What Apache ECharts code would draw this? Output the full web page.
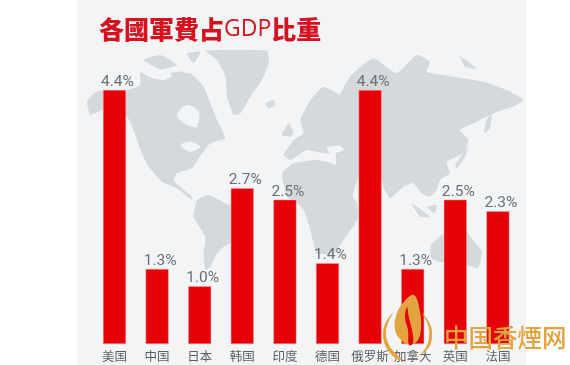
<!DOCTYPE html>
<html><head><meta charset="utf-8">
<style>html,body{margin:0;padding:0;background:#fff}#c{width:570px;height:365px;filter:blur(0.4px)}</style>
<script src="https://cdn.jsdelivr.net/npm/echarts@6/dist/echarts.min.js"></script>
</head><body><div id="c"></div>
<script>
const categories = ['美国','中国','日本','韩国','印度','德国','俄罗斯','加拿大','英国','法国'];
const values = [4.4,1.3,1.0,2.7,2.5,1.4,4.4,1.3,2.5,2.3];

// Decorative backdrop outlines (zoom-space points of the map image, not data)
const zA = p => p.map(([x,y]) => [77 + x/3, 40 + y/3]);
const zB = p => p.map(([x,y]) => [340 + x/3, 40 + y/3]);
const land = [
 zA([[30,185],[50,160],[78,150],[150,150],[190,135],[190,95],[215,110],[260,120],[300,105],[340,100],[380,140],[400,190],[420,240],[445,295],[400,310],[375,340],[345,385],[300,400],[290,420],[320,450],[345,470],[345,480],[300,445],[255,425],[215,380],[190,330],[170,270],[150,230],[78,210],[40,225]]),
 zA([[200,60],[250,45],[300,75],[250,88]]),
 zA([[330,40],[370,35],[350,70]]),
 zA([[280,100],[320,95],[340,125],[300,125]]),
 zA([[385,32],[570,32],[575,70],[555,120],[520,170],[490,220],[470,225],[450,170],[445,110],[420,60]]),
 zA([[565,190],[590,180],[595,195],[575,205]]),
 zA([[360,480],[395,465],[445,490],[520,530],[500,590],[440,620],[420,640],[400,680],[385,690],[380,640],[385,590],[350,530]]),
 zA([[615,285],[635,250],[650,280],[640,290]]),
 zA([[615,400],[650,370],[720,360],[790,380],[810,440],[840,490],[840,540],[800,600],[770,640],[720,640],[700,570],[680,510],[660,490],[630,470]]),
 zA([[620,345],[650,300],[680,280],[670,240],[700,180],[740,140],[800,170],[840,180],[840,360],[790,340],[740,340],[690,330],[640,360]]),
 zB([[-10,190],[30,110],[100,55],[170,100],[230,45],[270,65],[260,95],[340,110],[430,125],[500,150],[550,180],[520,200],[470,215],[440,230],[400,250],[360,270],[385,300],[370,340],[320,365],[330,400],[300,420],[290,450],[270,470],[245,460],[220,430],[190,440],[150,475],[130,440],[120,400],[60,400],[30,490],[0,510],[-10,440]]),
 zB([[345,375],[385,320],[375,350],[350,385]]),
 zB([[432,280],[440,240],[455,220],[450,265]]),
 zB([[215,490],[270,530],[240,530]]),
 zB([[260,500],[290,495],[285,520]]),
 zB([[360,50],[385,65],[410,85],[375,80]]),
 [[431,245],[447,231],[462,224],[470,236],[482,252],[478,268],[460,263],[440,262],[431,258]]
];
const holes = [
 zA([[300,225],[330,195],[365,215],[360,260],[330,255]]),
 zA([[310,315],[340,305],[370,320],[340,335]]),
 zA([[750,322],[790,318],[800,330],[760,340]])
];
const flame = [[414,295],[403,303],[396,316],[395,330],[401,340],[410,345],[418,340],[421,328],[420,312]];
const ringL = [[393,313],[386,322],[383,334],[386,347],[395,358],[403,360],[396,354],[389,345],[386,334],[388,323]];
const ringR = [[422,313],[430,324],[432,336],[429,347],[416,358],[425,349],[429,338],[428,325]];
const vein = [[407,307],[405,318],[408,330],[409,345],[413,343],[412,330],[409,318]];

const chart = echarts.init(document.getElementById('c'));
chart.setOption({
  animation:false,
  backgroundColor:'#ffffff',
  title:{
    left:94, top:12,
    text:'{b|各國軍費占}{g|GDP}{b|比重}',
    textStyle:{rich:{
      b:{fontFamily:'"Noto Sans CJK TC"',fontWeight:900,fontSize:25,color:'#d5121e'},
      g:{fontFamily:'"Open Sans"',fontWeight:400,fontSize:23,color:'#d5121e'}
    }}
  },
  grid:{left:93.2,width:426,top:90,bottom:21},
  xAxis:{type:'category',data:categories,
    axisLine:{show:false},axisTick:{show:false},
    axisLabel:{interval:0,margin:6,fontSize:12.5,color:'#5c5f62',fontFamily:'"Noto Sans CJK SC"'}},
  yAxis:{type:'value',min:0,max:4.4,show:false,splitLine:{show:false}},
  series:[{type:'bar',data:values,barWidth:23,z:3,
    itemStyle:{color:'#e60008',borderColor:'#f3a7a0',borderWidth:0.5},
    label:{show:true,position:'top',distance:0,offset:[3,0],formatter:p=>p.value.toFixed(1)+'%',
      fontFamily:'Roboto',fontWeight:400,fontSize:15.5,color:'#6b7074'}}],
  graphic:[
    {type:'rect',z:-10,silent:true,shape:{x:77,y:0,width:449,height:365},style:{fill:'#f2f4f6'}},
    ...land.map(points=>({type:'polygon',z:-9,silent:true,shape:{points,smooth:0.15},style:{fill:'#d6d9dc'}})),
    ...holes.map(points=>({type:'polygon',z:-8,silent:true,shape:{points,smooth:0.3},style:{fill:'#f2f4f6'}})),
    {type:'polygon',z:50,silent:true,shape:{points:ringL,smooth:0.4},style:{fill:'#e3a33e'}},
    {type:'polygon',z:50,silent:true,shape:{points:ringR,smooth:0.4},style:{fill:'#e3a33e'}},
    {type:'polygon',z:50,silent:true,shape:{points:flame,smooth:0.4},style:{fill:'#e3a33e'}},
    {type:'polygon',z:51,silent:true,shape:{points:vein,smooth:0.4},style:{fill:'#e60008'}},
    {type:'text',z:50,silent:true,x:444,y:325,style:{text:'中国香煙网',fontFamily:'"Noto Sans CJK SC"',fontWeight:500,fontSize:24.5,fill:'#e3a33e'}}
  ]
});
</script></body></html>
